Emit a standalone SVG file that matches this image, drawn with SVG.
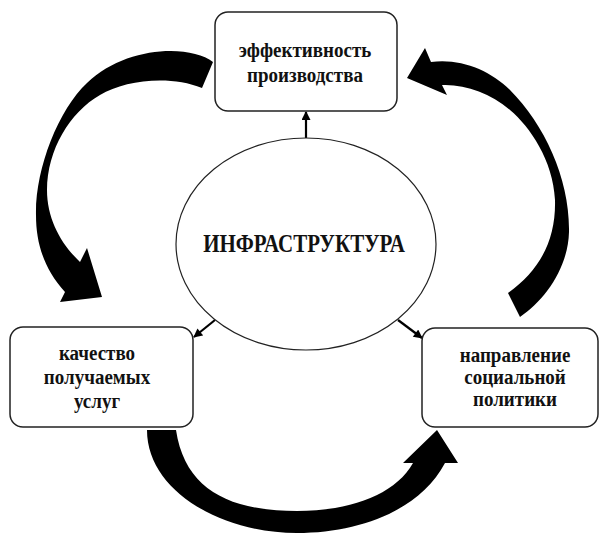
<svg xmlns="http://www.w3.org/2000/svg" width="600" height="534" viewBox="0 0 600 534">
<defs>
<style>
.box{fill:#fff;stroke:#222;stroke-width:1.5}
.ell{fill:#fff;stroke:#222;stroke-width:1.2}
.lbl{font-family:"Liberation Serif","Times New Roman",serif;font-weight:bold;font-size:19px;fill:#111;text-anchor:middle}
.big{font-size:21px}
.thin{stroke:#000;stroke-width:2.2;fill:none;marker-end:url(#ah)}
.fat{fill:#000;stroke:none}
</style>
<marker id="ah" viewBox="0 0 10 10" refX="9" refY="5" markerWidth="10" markerHeight="9" markerUnits="userSpaceOnUse" orient="auto">
<path d="M0,0 L10,5 L0,10 Z" fill="#000"/>
</marker>
</defs>
<rect width="600" height="534" fill="#fff"/>
<g id="connectors">
<path class="fat" d="M213,62 C190,44 125,46 87,83 C58,110 35,170 36,215 C36,245 45,270 65,292 L60,302 L102,297 L87,248 L80,262 C62,245 47,220 47,190 C47,150 70,112 100,95 C125,80 170,75 202,88 Z"/>
<path class="fat" d="M520,317 C545,300 568,268 569,232 C570,180 545,125 510,90 C490,70 460,58 431,62 L425,48 L407,78 L447,95 L442,85 C465,84 490,93 510,110 C530,127 553,160 555,200 C556,240 540,270 508,293 Z"/>
<path class="fat" d="M147,430 C147,490 220,533 297,533 C360,533 420,510 445,463 L458,463 L437,430 L403,463 L413,463 C395,495 350,511 297,511 C230,511 185,490 176,430 Z"/>
<line class="thin" x1="306" y1="138" x2="306" y2="112"/>
<line class="thin" x1="215" y1="320" x2="194" y2="337"/>
<line class="thin" x1="398" y1="320" x2="422" y2="338"/>
</g>
<g id="infra">
<ellipse class="ell" cx="306" cy="244" rx="130" ry="106"/>
<text class="lbl big" transform="translate(304,252) scale(1,1.15)">ИНФРАСТРУКТУРА</text>
</g>
<g id="efficiency">
<rect class="box" x="215" y="12" width="182" height="99" rx="13"/>
<text class="lbl" transform="translate(305,57) scale(1,1.15)">эффективность</text>
<text class="lbl" transform="translate(305,82) scale(1,1.15)">производства</text>
</g>
<g id="quality">
<rect class="box" x="10" y="327" width="183" height="100" rx="13"/>
<text class="lbl" transform="translate(97,360) scale(1,1.15)">качество</text>
<text class="lbl" transform="translate(97,384) scale(1,1.15)">получаемых</text>
<text class="lbl" transform="translate(97,408) scale(1,1.15)">услуг</text>
</g>
<g id="social">
<rect class="box" x="422" y="328" width="176" height="99" rx="13"/>
<text class="lbl" transform="translate(515,362) scale(1,1.15)">направление</text>
<text class="lbl" transform="translate(515,384) scale(1,1.15)">социальной</text>
<text class="lbl" transform="translate(515,406) scale(1,1.15)">политики</text>
</g>
</svg>
